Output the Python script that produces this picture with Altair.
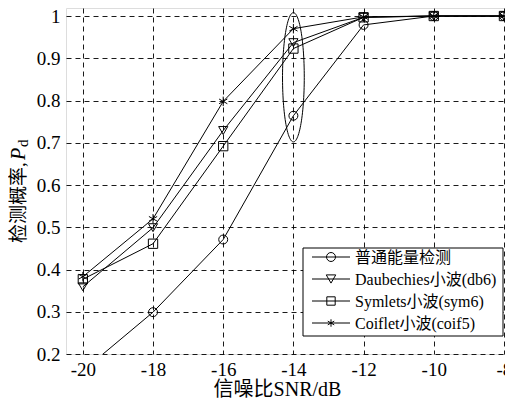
import altair as alt
import numpy as np
import pandas as pd

snr = [-20, -18, -16, -14, -12, -10, -8]
names = ["普通能量检测", "Daubechies小波(db6)", "Symlets小波(sym6)", "Coiflet小波(coif5)"]
energy = [0.16, 0.299, 0.471, 0.764, 0.979, 1.0, 1.0]
db6 = [0.359, 0.499, 0.729, 0.937, 0.997, 1.0, 1.0]
sym6 = [0.377, 0.461, 0.692, 0.923, 0.997, 1.0, 1.0]
coif5 = [0.383, 0.520, 0.798, 0.970, 0.998, 1.0, 1.0]
x_ticks = [-20, -18, -16, -14, -12, -10, -8]
y_ticks = [0.2, 0.3, 0.4, 0.5, 0.6, 0.7, 0.8, 0.9, 1.0]

rows = []
for name, vals in zip(names, [energy, db6, sym6, coif5]):
    for s, v in zip(snr, vals):
        rows.append({"snr": s, "pd": v, "series": name})
df = pd.DataFrame(rows)

# ellipse annotation around SNR = -14 dB
t = np.linspace(0, 2 * np.pi, 120)
ell = pd.DataFrame({"snr": -14 + 0.31 * np.cos(t), "pd": 0.855 + 0.153 * np.sin(t), "o": np.arange(len(t))})

W, H = 439, 346
xs = alt.Scale(domain=[-20.48, -7.97], nice=False, zero=False)
ys = alt.Scale(domain=[0.2, 1.019], nice=False, zero=False)

FONT = "Liberation Serif, Noto Sans CJK SC"

xax = alt.Axis(values=x_ticks, labelExpr="'' + datum.value", title="信噪比SNR/dB",
               grid=True, gridDash=[5, 4], gridColor="black", gridOpacity=1, gridWidth=0.9,
               ticks=False, domain=False, labelFont=FONT, labelFontSize=19, labelColor="black",
               labelPadding=6, titleFont=FONT, titleFontSize=20, titleFontWeight="normal",
               titleColor="black", titleBaseline="alphabetic", titleY=41, titleX=211)
yax = alt.Axis(values=y_ticks, format="~g", title=None,
               grid=True, gridDash=[5, 4], gridColor="black", gridOpacity=1, gridWidth=0.9,
               ticks=False, domain=False, labelFont=FONT, labelFontSize=19, labelColor="black",
               labelPadding=6)

star = "M0,-1V1M-0.87,-0.5L0.87,0.5M-0.87,0.5L0.87,-0.5"
marker_shapes = ["circle", "triangle-down", "square", star]
marker_sizes = [80, 90, 70, 55]

base = alt.Chart(df)

lines = base.mark_line(color="black", strokeWidth=1, clip=True).encode(
    x=alt.X("snr:Q", scale=xs, axis=xax),
    y=alt.Y("pd:Q", scale=ys, axis=yax),
    detail="series:N",
)

points = base.mark_point(color="black", filled=False, strokeWidth=1, clip=True, opacity=1).encode(
    x=alt.X("snr:Q", scale=xs),
    y=alt.Y("pd:Q", scale=ys),
    shape=alt.Shape("series:N", scale=alt.Scale(domain=names, range=marker_shapes), legend=None),
    size=alt.Size("series:N", scale=alt.Scale(domain=names, range=marker_sizes), legend=None),
)

ellipse = alt.Chart(ell).mark_line(color="black", strokeWidth=1).encode(
    x=alt.X("snr:Q", scale=xs),
    y=alt.Y("pd:Q", scale=ys),
    order="o:Q",
)

one = pd.DataFrame({"k": [0]})

# legend, drawn by hand (pixel layout inside the plot area)
LX0, LX1, LY0, LY1 = 237, 437, 240, 328
legend_layers = [
    alt.Chart(one).mark_rect(fill="white", stroke="black", strokeWidth=1).encode(
        x=alt.value(LX0), x2=alt.value(LX1), y=alt.value(LY0), y2=alt.value(LY1))
]
for i, name in enumerate(names):
    yy = 249 + 22 * i
    legend_layers.append(alt.Chart(one).mark_rule(color="black", strokeWidth=1).encode(
        x=alt.value(246), x2=alt.value(284), y=alt.value(yy)))
    legend_layers.append(alt.Chart(one).mark_point(color="black", filled=False, strokeWidth=1, opacity=1).encode(
        x=alt.value(265), y=alt.value(yy), shape=alt.value(marker_shapes[i]),
        size=alt.value(marker_sizes[i])))
    legend_layers.append(alt.Chart(one).mark_text(
        align="left", baseline="middle", font=FONT, fontSize=16, color="black").encode(
        x=alt.value(289), y=alt.value(yy + 1), text=alt.value(name)))

title_main = alt.Chart(one).mark_text(
    angle=270, align="left", baseline="middle", font=FONT, fontSize=19, color="black"
).encode(x=alt.value(-47), y=alt.value(235), text=alt.value("检测概率,"))
title_p = alt.Chart(one).mark_text(
    angle=270, align="left", baseline="middle", font="Liberation Serif", fontSize=20,
    fontStyle="italic", color="black"
).encode(x=alt.value(-47), y=alt.value(152), text=alt.value("P"))
title_d = alt.Chart(one).mark_text(
    angle=270, align="left", baseline="middle", font="Liberation Serif", fontSize=15, color="black"
).encode(x=alt.value(-43), y=alt.value(139), text=alt.value("d"))

chart = alt.layer(ellipse, lines, points, *legend_layers, title_main, title_p, title_d).resolve_scale(
    shape="independent", size="independent"
).properties(
    width=W, height=H,
    autosize=alt.AutoSizeParams(type="none"),
    padding={"left": 58, "top": 0, "right": 0, "bottom": 45},
).configure_view(stroke="black", strokeWidth=1).configure(background="white")

chart.save("out.html", embed_options={"renderer": "svg", "actions": False})
